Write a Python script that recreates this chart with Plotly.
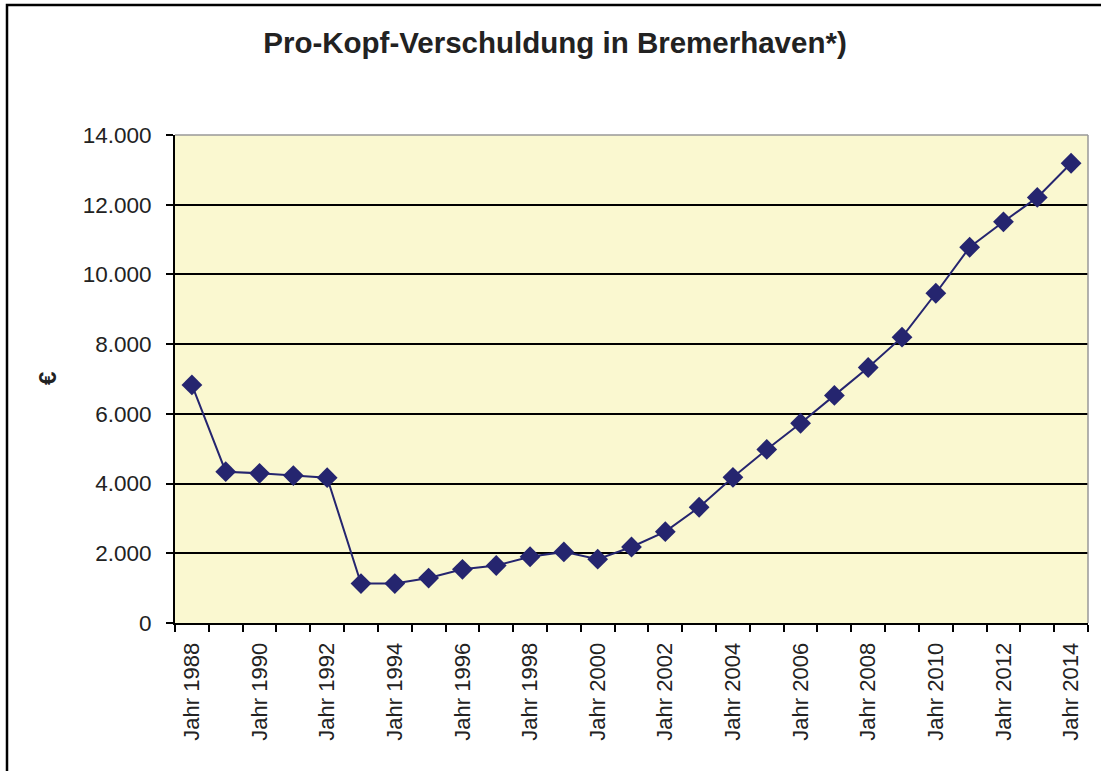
import plotly.graph_objects as go

years = list(range(1988, 2015))
categories = [f"Jahr {y}" for y in years]
debt_per_capita = [6830, 4340, 4295, 4230, 4170, 1130, 1130, 1290, 1540, 1650, 1900,
                   2040, 1830, 2180, 2620, 3320, 4180, 4980, 5730, 6530, 7330,
                   8200, 9460, 10780, 11510, 12210, 13190]
tick_labels = [c if y % 2 == 0 else "" for c, y in zip(categories, years)]
y_ticks = [0, 2000, 4000, 6000, 8000, 10000, 12000, 14000]
y_tick_text = ["0", "2.000", "4.000", "6.000", "8.000", "10.000", "12.000", "14.000"]

W, H = 1101, 771
L, R, T, B = 175, 1088, 135, 623
pw, ph = R - L, B - T

fig = go.Figure()
fig.add_trace(go.Scatter(
    x=categories, y=debt_per_capita, mode="lines+markers",
    line=dict(color="#25256F", width=2),
    marker=dict(symbol="diamond", size=16, color="#25256F"),
    showlegend=False,
))

font = "Liberation Sans, Arial, sans-serif"
fig.update_layout(
    width=W, height=H,
    margin=dict(l=L, r=W - R, t=T, b=H - B, autoexpand=False),
    paper_bgcolor="white",
    plot_bgcolor="#FAF8D0",
    font=dict(family=font, color="black"),
    title=dict(text="<b>Pro-Kopf-Verschuldung in Bremerhaven*)</b>",
               x=555 / W, xanchor="center", y=1 - 43 / H, yanchor="middle",
               font=dict(size=29.5, family=font, color="#222222")),
)
fig.update_xaxes(
    type="category", tickmode="array", tickvals=categories, ticktext=tick_labels,
    tickson="boundaries", ticks="outside", ticklen=7, tickwidth=2, tickcolor="black",
    tickangle=-90, tickfont=dict(size=22, family=font, color="#222222"),
    ticklabelstandoff=9,
    showline=True, linecolor="black", linewidth=2, showgrid=False,
    range=[-0.5, len(categories) - 0.5],
)
fig.update_yaxes(
    range=[0, 14000], tickmode="array", tickvals=y_ticks, ticktext=y_tick_text,
    ticks="outside", ticklen=7, tickwidth=2, tickcolor="black",
    tickfont=dict(size=22.5, family=font, color="#222222"),
    ticklabelstandoff=10,
    showline=True, linecolor="black", linewidth=2,
    showgrid=True, gridcolor="black", gridwidth=1.5, zeroline=False,
)
# plot area top/right frame
fig.add_shape(type="line", xref="paper", yref="paper", x0=0, x1=1, y0=1, y1=1,
              line=dict(color="#999999", width=1.5))
fig.add_shape(type="line", xref="paper", yref="paper", x0=1, x1=1, y0=0, y1=1,
              line=dict(color="#999999", width=1.5))
# outer chart border
fig.add_shape(type="rect", xref="paper", yref="paper",
              x0=(7 - L) / pw, x1=(1106 - L) / pw,
              y0=(B - 776) / ph, y1=(B - 5) / ph,
              line=dict(color="black", width=2.5), fillcolor="rgba(0,0,0,0)", layer="below")
fig.add_annotation(text="<b>€</b>", xref="paper", yref="paper",
                   x=(47 - L) / pw, y=(B - 379) / ph, xanchor="center", yanchor="middle",
                   showarrow=False, textangle=-90,
                   font=dict(size=24, family=font, color="#222222"))

fig.write_html("out.html", config={"displayModeBar": False},
               post_script="document.body.style.margin='0';")
